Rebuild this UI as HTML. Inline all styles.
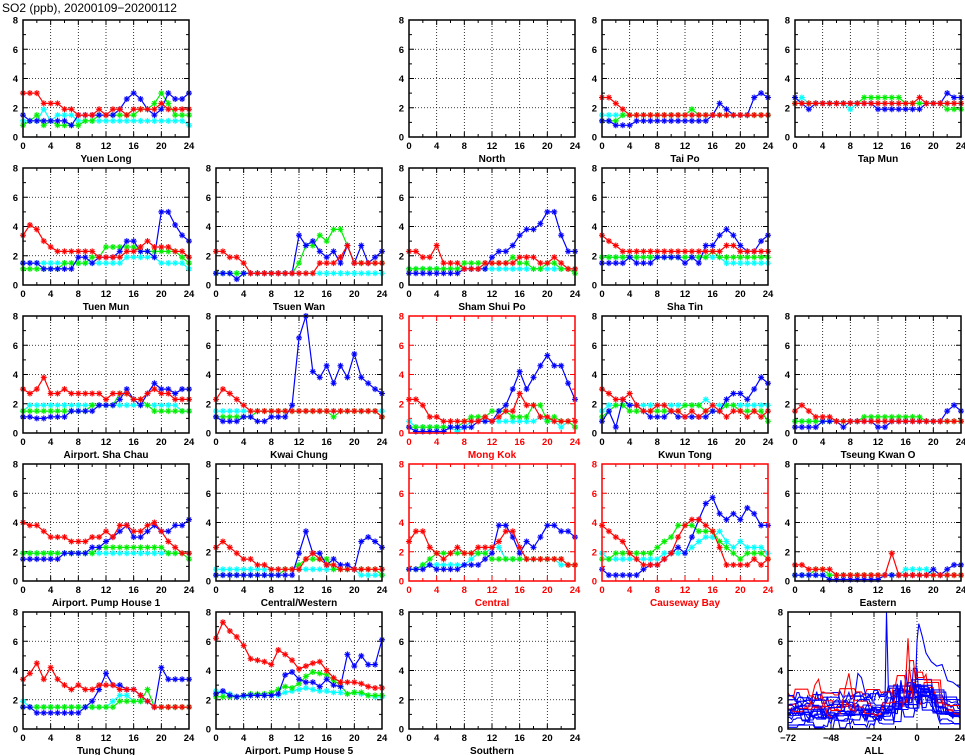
<!DOCTYPE html>
<html><head><meta charset="utf-8"><style>
html,body{margin:0;padding:0;background:#fff;}
svg{display:block;font-family:"Liberation Sans",sans-serif;}
</style></head><body>
<svg id="s" width="965" height="755" viewBox="0 0 965 755" xmlns="http://www.w3.org/2000/svg">
<text x="2" y="12" font-size="12">SO2 (ppb), 20200109−20200112</text>
</svg>
<script>
const S=document.getElementById('s');const NS='http://www.w3.org/2000/svg';
function el(t,a,p){const e=document.createElementNS(NS,t);for(const k in a)e.setAttribute(k,a[k]);(p||S).appendChild(e);return e;}
function txt(x,y,s,a){const e=el('text',Object.assign({x:x,y:y,'font-size':9.5,'font-weight':'bold'},a||{}));e.textContent=s;return e;}
const COLX=[23,216,409,602,795],ROWY=[20,168,316,464,612],W=166,H=117;
const C={r:'#ff0000',g:'#00ee00',b:'#0000ff',c:'#00ffff'};
const CL={r:'#ff9999',g:'#99ff99',b:'#9999ff',c:'#aaffff'};
const P=[
{c:0,r:0,n:'Yuen Long',d:{
c:[1.1,1.1,1.1,1.9,1.1,1.5,1.5,1.5,1.1,1.1,1.1,1.1,1.1,1.1,1.1,1.1,1.1,1.1,1.1,1.1,1.1,1.1,1.1,1.1,0.8],
g:[0.8,1.1,1.5,0.8,1.1,0.8,0.8,0.8,0.8,1.1,1.1,1.5,1.5,1.5,1.5,1.5,1.5,1.9,1.9,2.3,3,2.3,1.5,1.5,1.5],
b:[1.5,1.1,1.1,1.1,1.1,1.1,1.1,0.8,1.5,1.5,1.5,1.5,1.5,1.5,1.9,2.6,3,2.6,1.9,1.5,1.9,3,2.6,2.6,3],
r:[3,3,3,2.3,2.3,2.3,1.9,1.9,1.5,1.5,1.5,1.9,1.5,1.9,1.9,1.5,1.9,1.9,1.9,1.9,2.3,1.9,1.9,1.9,1.9]}},
{c:2,r:0,n:'North',d:{}},
{c:3,r:0,n:'Tai Po',d:{
c:[1.5,1.5,1.5,1.5,1.5,1.5,1.5,1.5,1.5,1.5,1.5,1.5,1.5,1.5,1.5,1.5,1.5,1.5,1.5,1.5,1.5,1.5,1.5,1.5,1.5],
g:[1.1,1.1,1.1,1.5,1.5,1.5,1.5,1.5,1.5,1.5,1.5,1.5,1.5,1.9,1.5,1.5,1.5,1.5,1.5,1.5,1.5,1.5,1.5,1.5,1.5],
b:[1.1,1.1,0.8,0.8,0.8,1.1,1.1,1.1,1.1,1.1,1.1,1.1,1.1,1.1,1.1,1.1,1.5,2.3,1.9,1.5,1.5,1.5,2.7,3,2.7],
r:[2.7,2.7,2.3,1.9,1.5,1.5,1.5,1.5,1.5,1.5,1.5,1.5,1.5,1.5,1.5,1.5,1.5,1.5,1.5,1.5,1.5,1.5,1.5,1.5,1.5]}},
{c:4,r:0,n:'Tap Mun',d:{
c:[2.3,2.7,2.3,2.3,2.3,2.3,2.3,2.3,1.9,2.3,2.3,2.3,2.3,2.3,2.3,2.3,2.3,2.3,2.3,2.3,2.3,2.3,2.3,2.3,2.3],
g:[2.3,2.3,2.3,2.3,2.3,2.3,2.3,2.3,2.3,2.3,2.7,2.7,2.7,2.7,2.7,2.7,2.3,2.3,2.3,2.3,2.3,2.3,1.9,1.9,1.9],
b:[2.7,2.3,1.9,2.3,2.3,2.3,2.3,2.3,2.3,2.3,2.3,2.3,1.9,1.9,1.9,1.9,1.9,1.9,1.9,2.3,2.3,2.3,3,2.7,2.7],
r:[2.3,2.3,2.3,2.3,2.3,2.3,2.3,2.3,2.3,2.3,2.3,2.3,2.3,2.3,2.3,2.3,2.3,2.3,2.7,2.3,2.3,2.3,2.3,2.3,2.3]}},
{c:0,r:1,n:'Tuen Mun',d:{
c:[1.5,1.5,1.5,1.5,1.5,1.5,1.5,1.5,1.5,1.5,1.5,1.5,1.5,1.5,1.5,1.9,1.9,1.9,1.9,1.9,1.5,1.5,1.5,1.5,1.1],
g:[1.1,1.1,1.1,1.1,1.1,1.1,1.5,1.5,1.5,1.5,1.9,1.9,2.6,2.6,2.6,2.6,2.6,2.3,2.3,2.3,2.3,2.3,2.3,1.9,1.5],
b:[1.5,1.5,1.5,1.1,1.1,1.1,1.1,1.1,1.9,1.9,1.5,1.9,1.9,1.9,2.3,3,3,2.3,2.3,1.9,5,5,4.1,3.4,3],
r:[3.4,4.1,3.8,3.0,2.6,2.3,2.3,2.3,2.3,2.3,2.3,1.9,1.9,1.9,1.9,2.3,2.3,2.6,3,2.6,2.6,2.6,2.3,2.3,1.9]}},
{c:1,r:1,n:'Tsuen Wan',d:{
c:[0.8,0.8,0.8,0.8,0.8,0.8,0.8,0.8,0.8,0.8,0.8,0.8,0.8,0.8,0.8,0.8,0.8,0.8,0.8,0.8,0.8,0.8,0.8,0.8,0.8],
g:[0.8,0.8,0.8,0.8,0.8,0.8,0.8,0.8,0.8,0.8,0.8,0.8,1.5,2.7,2.7,3.4,3.0,3.8,3.8,2.7,1.5,1.5,1.5,1.5,1.5],
b:[0.8,0.8,0.8,0.4,0.8,0.8,0.8,0.8,0.8,0.8,0.8,0.8,3.4,2.7,3.0,2.3,1.9,2.3,1.5,2.7,1.5,2.7,1.5,1.9,2.3],
r:[2.3,2.3,1.9,1.9,1.5,0.8,0.8,0.8,0.8,0.8,0.8,0.8,0.8,0.8,0.8,1.5,1.5,1.5,1.9,2.7,1.5,1.5,1.5,1.5,1.5]}},
{c:2,r:1,n:'Sham Shui Po',d:{
c:[1.1,1.1,1.1,1.1,1.1,1.1,1.1,1.1,1.1,1.1,1.1,1.1,1.1,1.1,1.1,1.1,1.1,1.1,1.1,1.1,1.1,1.1,1.1,1.1,1.1],
g:[1.1,1.1,1.1,1.1,1.1,1.1,1.1,1.1,1.5,1.5,1.5,1.5,1.5,1.5,1.5,1.9,1.5,1.5,1.1,1.1,1.5,1.5,1.1,1.1,0.8],
b:[0.8,0.8,0.8,0.8,0.8,0.8,0.8,0.8,1.1,1.1,1.1,1.1,1.9,2.3,2.3,2.7,3.4,3.8,3.8,4.2,5,5,3.4,2.3,2.3],
r:[2.3,2.3,1.9,1.9,2.7,1.5,1.5,1.5,1.1,1.1,1.1,1.5,1.5,1.5,1.5,1.5,1.9,1.9,1.9,1.5,1.5,1.9,1.5,1.1,1.1]}},
{c:3,r:1,n:'Sha Tin',d:{
c:[1.9,1.9,1.9,1.9,1.9,1.9,1.9,1.9,1.9,1.9,1.9,1.9,1.9,1.9,1.9,1.9,1.9,1.9,1.5,1.5,1.5,1.5,1.5,1.5,1.5],
g:[1.9,1.9,1.9,1.9,1.9,1.9,1.9,1.9,1.9,1.9,1.9,1.9,1.9,1.9,1.9,1.9,2.3,1.9,1.9,1.9,1.9,1.9,1.9,1.9,1.9],
b:[1.5,1.5,1.5,1.5,1.9,1.5,1.5,1.5,1.9,1.9,1.9,1.9,1.5,1.9,1.5,2.7,2.7,3.4,3.8,3.4,2.7,2.3,2.3,3,3.4],
r:[3.4,3,2.7,2.3,2.3,2.3,2.3,2.3,2.3,2.3,2.3,2.3,2.3,2.3,2.3,2.3,2.3,2.3,2.7,2.7,2.3,2.3,2.3,2.3,2.3]}},
{c:0,r:2,n:'Airport. Sha Chau',d:{
c:[1.5,1.9,1.9,1.9,1.9,1.9,1.9,1.9,1.9,1.9,1.9,1.9,1.9,1.9,1.9,1.9,1.9,1.9,1.9,1.9,1.9,1.9,1.9,1.5,1.5],
g:[1.5,1.5,1.5,1.5,1.5,1.5,1.5,1.5,1.5,1.5,1.9,1.9,1.9,1.9,2.7,2.7,2.3,2.3,1.9,1.5,1.5,1.5,1.5,1.5,1.5],
b:[1.1,1.1,1,1,1.1,1.1,1.1,1.5,1.5,1.5,1.5,1.9,1.9,1.9,2.3,3,2.3,1.9,2.7,3.4,3,3,2.7,3,3],
r:[3,2.7,3,3.8,2.7,2.7,3,2.7,2.7,2.7,2.7,2.7,2.3,2.7,2.7,2.7,2.3,2.3,2.7,3,2.7,2.7,2.3,2.3,2.3]}},
{c:1,r:2,n:'Kwai Chung',d:{
c:[1.5,1.5,1.5,1.5,1.5,1.5,1.5,1.5,1.5,1.5,1.5,1.5,1.5,1.5,1.5,1.5,1.5,1.5,1.5,1.5,1.5,1.5,1.5,1.5,1.5],
g:[1.1,1.1,1.1,1.1,1.1,1.1,1.5,1.5,1.5,1.5,1.5,1.5,1.5,1.5,1.5,1.5,1.5,1.1,1.5,1.5,1.5,1.5,1.5,1.5,1.1],
b:[1.1,0.8,0.8,0.8,1.1,1.1,0.8,0.8,1.1,1.1,1.1,1.9,6.5,8,4.2,3.8,4.6,3.4,4.6,3.8,5.4,3.8,3.4,3.0,2.7],
r:[2.3,3,2.7,2.3,1.9,1.5,1.5,1.5,1.5,1.5,1.5,1.5,1.5,1.5,1.5,1.5,1.5,1.5,1.5,1.5,1.5,1.5,1.5,1.5,1.1]}},
{c:2,r:2,n:'Mong Kok',red:1,d:{
c:[0.8,0.4,0.4,0.4,0.4,0.4,0.4,0.1,0.4,0.8,0.8,0.8,0.8,0.8,0.8,0.8,0.8,0.8,0.8,1.1,0.8,0.8,0.4,0.8,0.4],
g:[0.4,0.4,0.4,0.4,0.4,0.4,0.4,0.4,0.8,1.1,1.1,1.1,1.5,1.5,1.5,1.1,1.1,1.1,1.9,1.9,0.8,1.1,0.8,0.8,0.4],
b:[0.4,0.1,0.1,0.1,0.1,0.1,0.4,0.4,0.4,0.4,0.8,0.8,0.8,1.5,1.9,3,4.2,3,3.8,4.6,5.3,4.6,4.6,3.4,2.3],
r:[2.3,2.3,1.9,1.1,1.1,0.8,0.8,0.8,0.8,0.8,0.8,1.1,0.8,1.1,1.5,1.5,2.7,1.9,1.9,1.1,1.1,0.8,0.8,0.8,0.8]}},
{c:3,r:2,n:'Kwun Tong',d:{
c:[1.5,1.9,1.9,1.9,1.9,1.9,1.9,1.9,1.9,1.9,1.9,1.9,1.9,1.9,1.9,2.3,1.9,1.9,1.9,1.9,1.9,1.9,1.9,1.9,1.9],
g:[1.1,1.5,1.9,1.9,1.5,1.5,1.5,1.5,1.5,1.5,1.5,1.5,1.9,1.9,1.9,1.5,1.5,1.5,1.9,1.9,1.5,1.5,1.5,1.5,0.8],
b:[0.8,1.5,0.4,2.3,1.9,1.9,1.5,1.1,1.1,1.1,1.5,1.1,1.1,1.1,1.1,1.1,1.5,1.5,2.3,2.7,2.7,2.3,3,3.8,3.4],
r:[3,2.7,2.3,2.3,2.7,1.9,1.5,1.5,1.9,1.9,1.5,1.5,1.1,1.5,1.1,1.5,1.9,1.5,1.1,1.5,1.5,1.1,1.5,1.1,1.5]}},
{c:4,r:2,n:'Tseung Kwan O',d:{
c:[0.8,0.8,0.8,0.8,0.8,0.8,0.8,0.8,0.8,0.8,0.8,0.8,0.8,0.8,0.8,0.8,0.8,0.8,0.8,0.8,0.8,0.8,0.8,0.8,0.8],
g:[0.8,0.8,0.8,0.8,0.8,0.8,0.8,0.8,0.8,0.8,1.1,1.1,1.1,1.1,1.1,1.1,1.1,1.1,1.1,0.8,0.8,0.8,0.8,0.8,0.8],
b:[0.4,0.4,0.4,0.4,0.8,0.8,0.8,0.4,0.8,0.8,0.8,0.8,0.4,0.4,0.8,0.8,0.8,0.8,0.8,0.8,0.8,0.8,1.5,1.9,1.5],
r:[1.5,1.9,1.5,1.1,1.1,1.1,0.8,0.8,0.8,0.8,0.8,0.8,0.8,0.8,0.8,0.8,0.8,0.8,0.8,0.8,0.8,0.8,0.8,0.8,0.8]}},
{c:0,r:3,n:'Airport. Pump House 1',d:{
c:[1.9,1.9,1.9,1.9,1.9,1.9,1.9,1.9,1.9,1.9,1.9,1.9,1.9,1.9,1.9,1.9,1.9,1.9,1.9,1.9,1.9,1.9,1.9,1.9,1.9],
g:[1.9,1.9,1.9,1.9,1.9,1.9,1.9,1.9,1.9,1.9,1.9,2.3,2.3,2.3,2.3,2.3,2.3,2.3,2.3,2.3,2.3,1.9,1.9,1.9,1.5],
b:[1.5,1.5,1.5,1.5,1.5,1.5,1.9,1.9,1.9,1.9,2.3,2.3,2.7,3,3.4,3.8,3,3,3.4,3.8,3.4,3.4,3.8,3.8,4.2],
r:[4,3.8,3.8,3.4,3,3,3,2.7,2.7,2.7,3,3,3.4,3,3.8,3.8,3.4,3.4,3.8,4,3.4,2.7,2.3,1.9,1.9]}},
{c:1,r:3,n:'Central/Western',d:{
c:[0.8,0.8,0.8,0.8,0.8,0.8,0.8,0.8,0.8,0.8,0.8,0.8,0.8,0.8,0.8,0.8,0.8,0.8,0.8,0.8,0.8,0.4,0.4,0.4,0.4],
g:[0.4,0.4,0.4,0.4,0.4,0.4,0.4,0.4,0.4,0.4,0.8,0.8,1.1,1.5,1.5,1.5,1.5,0.8,0.8,0.8,0.8,0.8,0.8,0.8,0.4],
b:[0.4,0.4,0.4,0.4,0.4,0.4,0.4,0.4,0.4,0.4,0.4,0.4,1.9,3.4,1.9,1.9,1.1,1.5,1.1,1.1,0.8,2.7,3,2.7,2.3],
r:[2.3,2.7,2.3,1.9,1.5,1.5,1.1,1.1,0.8,0.8,0.8,0.8,0.8,1.5,1.9,1.5,1.1,1.1,0.8,0.8,0.8,0.8,0.8,0.8,0.8]}},
{c:2,r:3,n:'Central',red:1,d:{
c:[0.8,0.8,1.1,1.1,1.1,1.1,1.1,1.1,1.1,1.5,1.9,1.9,2.3,2.3,1.5,1.5,1.5,1.5,1.5,1.5,1.5,1.5,1.1,1.1,1.1],
g:[0.8,0.8,1.1,1.5,1.9,1.9,1.9,1.9,1.9,1.9,1.9,1.9,1.5,1.5,1.5,1.5,1.5,1.5,1.5,1.5,1.5,1.5,1.5,1.1,1.1],
b:[0.8,0.8,0.8,1.1,0.8,0.8,0.8,0.8,1.1,1.1,1.1,1.5,1.9,3.8,3.8,3,1.9,2.7,2.3,3,3.8,3.8,3.4,3.4,3],
r:[2.7,3.4,3.4,2.3,1.9,1.5,1.9,2.3,1.9,1.9,2.3,2.3,2.3,2.7,3.4,3.4,2.3,1.5,1.5,1.5,1.5,1.5,1.5,1.1,1.1]}},
{c:3,r:3,n:'Causeway Bay',red:1,d:{
c:[1.9,1.5,1.5,1.5,1.5,1.5,1.5,1.5,1.5,1.9,1.9,1.9,1.9,2.3,2.7,3,3,3.4,2.7,2.3,2.7,2.3,2.3,2.3,1.9],
g:[1.5,1.5,1.9,1.9,1.9,1.9,1.9,1.9,2.3,2.7,3,3.8,3.8,3.8,3.4,3.4,3.4,2.7,2.3,1.9,1.5,1.9,1.9,1.9,1.5],
b:[0.8,0.4,0.4,0.4,0.4,0.4,0.8,1.1,1.1,1.5,1.9,2.3,1.9,3,4.2,5.3,5.7,4.6,4.2,4.6,4.2,5,4.6,3.8,3.8],
r:[3.8,3.4,3,2.7,1.9,1.5,1.1,1.1,1.1,1.5,1.9,3,3.8,4.2,4.2,3.8,3.4,2.3,1.1,1.1,1.1,1.1,1.5,1.1,1.5]}},
{c:4,r:3,n:'Eastern',d:{
c:[0.4,0.4,0.4,0.4,0.4,0.4,0.4,0.4,0.4,0.4,0.4,0.4,0.4,0.4,0.4,0.4,0.8,0.8,0.8,0.8,0.4,0.4,0.4,0.4,0.4],
g:[0.4,0.4,0.4,0.8,0.8,0.4,0.4,0.4,0.4,0.4,0.4,0.4,0.4,0.4,0.4,0.4,0.4,0.4,0.4,0.4,0.4,0.4,0.4,0.4,0.4],
b:[0.4,0.4,0.4,0.4,0.4,0.1,0.1,0.1,0.1,0.1,0.1,0.1,0.1,0.4,0.4,0.4,0.4,0.4,0.4,0.4,0.8,0.4,0.8,1.1,1.1],
r:[1.1,1.1,0.8,0.8,0.8,0.8,0.4,0.4,0.4,0.4,0.4,0.4,0.4,0.4,1.9,0.4,0.4,0.4,0.4,0.4,0.4,0.4,0.4,0.4,0.4]}},
{c:0,r:4,n:'Tung Chung',d:{
c:[1.9,1.5,1.5,1.5,1.5,1.5,1.5,1.5,1.5,1.5,1.5,1.5,1.5,1.9,2.3,2.3,1.9,1.9,1.9,1.5,1.5,1.5,1.5,1.5,1.5],
g:[1.5,1.5,1.5,1.5,1.5,1.5,1.5,1.5,1.5,1.5,1.5,1.5,1.5,1.5,1.9,1.9,1.9,1.9,2.7,1.5,1.5,1.5,1.5,1.5,1.5],
b:[1.5,1.5,1.1,1.1,1.1,1.1,1.1,1.1,1.1,1.5,1.9,2.7,3.8,3,3,2.7,2.7,2.3,1.9,1.5,4.2,3.4,3.4,3.4,3.4],
r:[3.4,3.8,4.5,3.4,4.2,3.4,3,2.7,3,2.7,2.7,3,3,3,2.7,2.7,2.7,2.3,1.9,1.5,1.5,1.5,1.5,1.5,1.5]}},
{c:1,r:4,n:'Airport. Pump House 5',d:{
c:[2.6,2.5,2.4,2.2,2.2,2.3,2.3,2.3,2.3,2.3,2.5,2.6,2.7,2.8,2.7,2.6,2.6,2.5,2.5,2.4,2.5,2.4,2.3,2.2,2.2],
g:[2.2,2.2,2.2,2.2,2.3,2.4,2.4,2.4,2.5,2.7,2.9,2.8,3.1,3.6,3.9,3.8,3.7,3.3,3.0,2.4,2.5,2.5,2.3,2.3,2.3],
b:[2.4,2.6,2.3,2.2,2.3,2.3,2.3,2.3,2.3,2.4,3.7,3.9,3.4,3.2,3.2,2.9,3.4,3.0,2.9,5.1,4.3,5.0,4.4,4.4,6.1],
r:[6.2,7.3,6.7,6.3,5.7,4.8,4.7,4.6,4.4,5.4,5.1,4.7,4.1,4.3,4.5,4.6,4.0,3.5,3.2,3.2,3.2,3.1,2.9,2.8,2.8]}},
{c:2,r:4,n:'Southern',d:{}}
];
function frame(x0,y0,w,h,xt,xmin,xmax,col){
  const g=el('g',{});
  const sx=v=>x0+(v-xmin)/(xmax-xmin)*w, sy=v=>y0+h-v/8*h;
  for(const v of xt.slice(1,-1)) el('line',{x1:sx(v),x2:sx(v),y1:y0,y2:y0+h,stroke:'#000','stroke-width':0.8,'stroke-dasharray':'1,2'},g);
  for(const v of [2,4,6]) el('line',{x1:x0,x2:x0+w,y1:sy(v),y2:sy(v),stroke:'#000','stroke-width':0.8,'stroke-dasharray':'1,2'},g);
  for(let v=1;v<8;v++){const L=(v%2)?3:5;el('line',{x1:x0,x2:x0+L,y1:sy(v),y2:sy(v),stroke:col,'stroke-width':1},g);el('line',{x1:x0+w-L,x2:x0+w,y1:sy(v),y2:sy(v),stroke:col,'stroke-width':1},g);}
  const step=(xt[1]-xt[0])/2;
  for(let v=xmin+step;v<xmax;v+=step){const L=(Math.round((v-xmin)/step)%2)?3:5;el('line',{x1:sx(v),x2:sx(v),y1:y0+h-L,y2:y0+h,stroke:col,'stroke-width':1},g);el('line',{x1:sx(v),x2:sx(v),y1:y0,y2:y0+L,stroke:col,'stroke-width':1},g);}
  for(const v of [0,2,4,6,8]) txt(x0-5,sy(v)+3.5,String(v),{'text-anchor':'end',fill:col});
  for(const v of xt) txt(sx(v),y0+h+12,String(v).replace('-','−'),{'text-anchor':'middle',fill:col});
  return {sx,sy,g};
}
function star(x,y,c,cl){
  el('circle',{cx:x,cy:y,r:3,fill:cl,opacity:0.35});
  const r=3;let d='';
  for(let i=0;i<4;i++){const a=i*Math.PI/4;d+=`M${(x-r*Math.cos(a)).toFixed(1)},${(y-r*Math.sin(a)).toFixed(1)}L${(x+r*Math.cos(a)).toFixed(1)},${(y+r*Math.sin(a)).toFixed(1)}`;}
  el('path',{d:d,stroke:c,'stroke-width':1});
}
for(const p of P){
  const x0=COLX[p.c],y0=ROWY[p.r];const col=p.red?'#ff0000':'#000';
  const f=frame(x0,y0,W,H,[0,4,8,12,16,20,24],0,24,col);
  for(const k of ['c','g','b','r']){const a=p.d[k];if(!a)continue;
    el('polyline',{points:a.map((v,i)=>f.sx(i).toFixed(1)+','+f.sy(v).toFixed(1)).join(' '),fill:'none',stroke:C[k],'stroke-width':1.2});
    a.forEach((v,i)=>star(f.sx(i),f.sy(v),C[k],CL[k]));}
  el('rect',{x:x0,y:y0,width:W,height:H,fill:'none',stroke:col,'stroke-width':1.5});
  txt(x0+W/2,y0+H+25,p.n,{'text-anchor':'middle',fill:col,'font-size':10});
}
// ALL panel
(function(){
  const x0=788,y0=612,w=172,h=117;
  const f=frame(x0,y0,w,h,[-72,-48,-24,0,24],-72,24,'#000');
  let s=98765;const R=()=>{s=(s*16807)%2147483647;return s/2147483647;};
  const clip=el('clipPath',{id:'cl'});el('rect',{x:x0,y:y0,width:w,height:h},clip);
  const gg=el('g',{'clip-path':'url(#cl)'});
  for(let n=0;n<20;n++){
    const red=(n==3||n==9||n==15);let base=0.3+R()*2.2;let v=base;let pts=[];
    for(let t=-72;t<=24;t++){
      if(R()<0.3){
        let target=base+(R()-0.5)*1.2;
        if(t>-22){const amp=3*Math.max(0.15,1-Math.abs(t+4)/22);target=base*0.6+R()*amp*1.4;}
        v=v+(target-v)*0.7;
      }
      v=Math.max(0,Math.min(8,v));
      pts.push(f.sx(t).toFixed(1)+','+f.sy(v).toFixed(1));}
    el('polyline',{points:pts.join(' '),fill:'none',stroke:red?'#ff0000':'#0000ff','stroke-width':1.1},gg);
  }
  const ln=(a,c)=>el('polyline',{points:a.map(q=>f.sx(q[0]).toFixed(1)+','+f.sy(q[1]).toFixed(1)).join(' '),fill:'none',stroke:c,'stroke-width':1.1},gg);
  ln([[-60,1.5],[-57,3],[-55,3.4],[-53,2.3],[-50,1],[-48,0.8]],'#ff0000');
  ln([[-42,1.5],[-40,2.8],[-38,3.8],[-36,2.3],[-34,1.1]],'#ff0000');
  ln([[-35,2],[-33,3.8],[-31,3.5],[-29,2.5],[-27,1.5]],'#0000ff');
  ln([[-8,1.5],[-6,4],[-5,6.2],[-4,4],[-2,2]],'#ff0000');
  ln([[-18,1],[-17,8],[-16,3],[-14,2]],'#0000ff');
  ln([[-1,2.5],[0,6],[1,7.2],[3,6.3],[5,5.2],[8,4.6],[11,4.3],[14,4.4],[17,3.3],[20,3.2],[24,2.8]],'#0000ff');
  el('rect',{x:x0,y:y0,width:w,height:h,fill:'none',stroke:'#000','stroke-width':1.5});
  txt(x0+w/2,y0+h+25,'ALL',{'text-anchor':'middle','font-size':10});
})();
</script>
</body></html>
